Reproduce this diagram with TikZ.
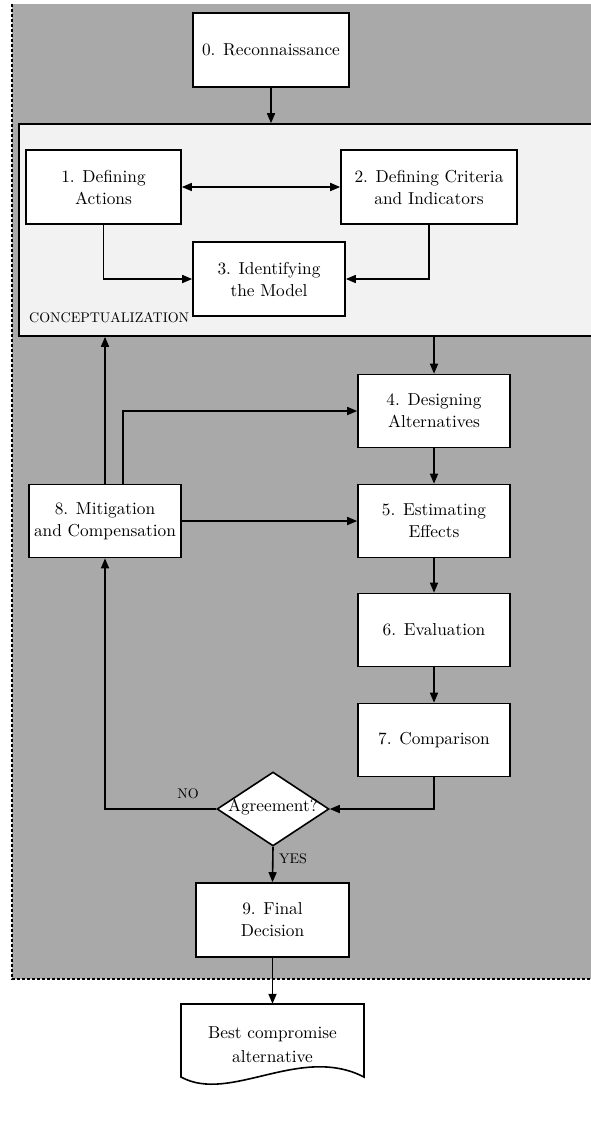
\documentclass[tikz,border=0pt]{standalone}
\usepackage{fontspec}
\setmainfont{lmroman10-regular.otf}
\usetikzlibrary{arrows.meta,shapes.geometric}
\definecolor{bggray}{HTML}{A9A9A9}
\definecolor{conceptfill}{HTML}{F2F2F2}
\begin{document}
\begin{tikzpicture}[x=1pt,y=-1pt,
  every node/.style={font=\fontsize{17.3}{22}\selectfont},
  box/.style={draw, line width=1.6pt, fill=white, align=center, minimum width=152pt, minimum height=73pt, inner sep=0pt},
  arr/.style={line width=1.6pt, -{Triangle[length=10pt,width=8pt]}},
  dblarr/.style={line width=1.6pt, {Triangle[length=10pt,width=8pt]}-{Triangle[length=10pt,width=8pt]}},
  smalltext/.style={font=\fontsize{14}{16}\selectfont, inner sep=0pt},
  border/.style={line width=1.5pt, dash pattern=on 3pt off 2pt}
]
\clip (0,0) rectangle (591,1121);
\fill[white] (0,0) rectangle (591,1121);
\fill[bggray] (12,4) rectangle (620,979);
\draw[border] (12,4) -- (12,979) -- (620,979);

% conceptualization group
\node[draw, line width=1.6pt, fill=conceptfill, minimum width=581pt, minimum height=212pt, inner sep=0pt] (concept) at (309.5,230) {};
\node[smalltext, anchor=west] (conlabel) at (29,318) {CONCEPTUALIZATION};

% boxes
\node[box, minimum width=156pt, minimum height=74pt] (b0) at (271,50) {0. Reconnaissance};
\node[box, minimum width=155pt, minimum height=74pt] (b1) at (103.5,187) {1. Defining\\Actions};
\node[box, minimum width=176pt, minimum height=74pt] (b2) at (429,187) {2. Defining Criteria\\and Indicators};
\node[box, minimum height=74pt] (b3) at (269,279) {3. Identifying\\the Model};
\node[box] (b4) at (434,411) {4. Designing\\Alternatives};
\node[box] (b5) at (434,521) {5. Estimating\\Effects};
\node[box] (b6) at (434,630) {6. Evaluation};
\node[box] (b7) at (434,740) {7. Comparison};
\node[box] (b8) at (105,521) {8. Mitigation\\and Compensation};
\node[diamond, draw, line width=1.6pt, fill=white, minimum width=112pt, minimum height=74pt, inner sep=0pt] (dia) at (273,809) {};
\node[inner sep=0pt] (diatext) at (273,807) {Agreement?};
\node[box, minimum width=153pt, minimum height=74pt] (b9) at (272.5,920) {9. Final\\Decision};

% document shape
\draw[line width=1.6pt, fill=white] (181,1004) -- (181,1077)
  .. controls (230,1104) and (300,1044) .. (364,1077) -- (364,1004) -- cycle;
\node[minimum width=183pt, minimum height=82pt, inner sep=0pt, align=center, font=\fontsize{17.3}{24}\selectfont] (doc) at (272.5,1045) {Best compromise\\alternative};

% labels
\node[smalltext] (nolabel) at (188,794) {NO};
\node[smalltext] (yeslabel) at (293,859) {YES};

% connectors
\draw[arr] (b0.south) -- (b0.south |- concept.north);
\draw[dblarr] (b1.east) -- (b2.west);
\draw[arr] (b1.south) |- (b3.west);
\draw[arr] (b2.south) |- (b3.east);
\draw[arr] (b4.north |- concept.south) -- (b4.north);
\draw[arr] (b4) -- (b5);
\draw[arr] (b5) -- (b6);
\draw[arr] (b6) -- (b7);
\draw[arr] (b7.south) |- (dia.east);
\draw[arr] (dia.west) -| (b8.south);
\draw[arr] (b8.north) -- (b8.north |- concept.south);
\draw[arr] ([xshift=18pt]b8.north) |- (b4.west);
\draw[arr] (b8.east) -- (b5.west);
\draw[arr] (dia.south) -- (b9.north);
\draw[arr] (b9.south) -- (doc.north);
\end{tikzpicture}
\end{document}
